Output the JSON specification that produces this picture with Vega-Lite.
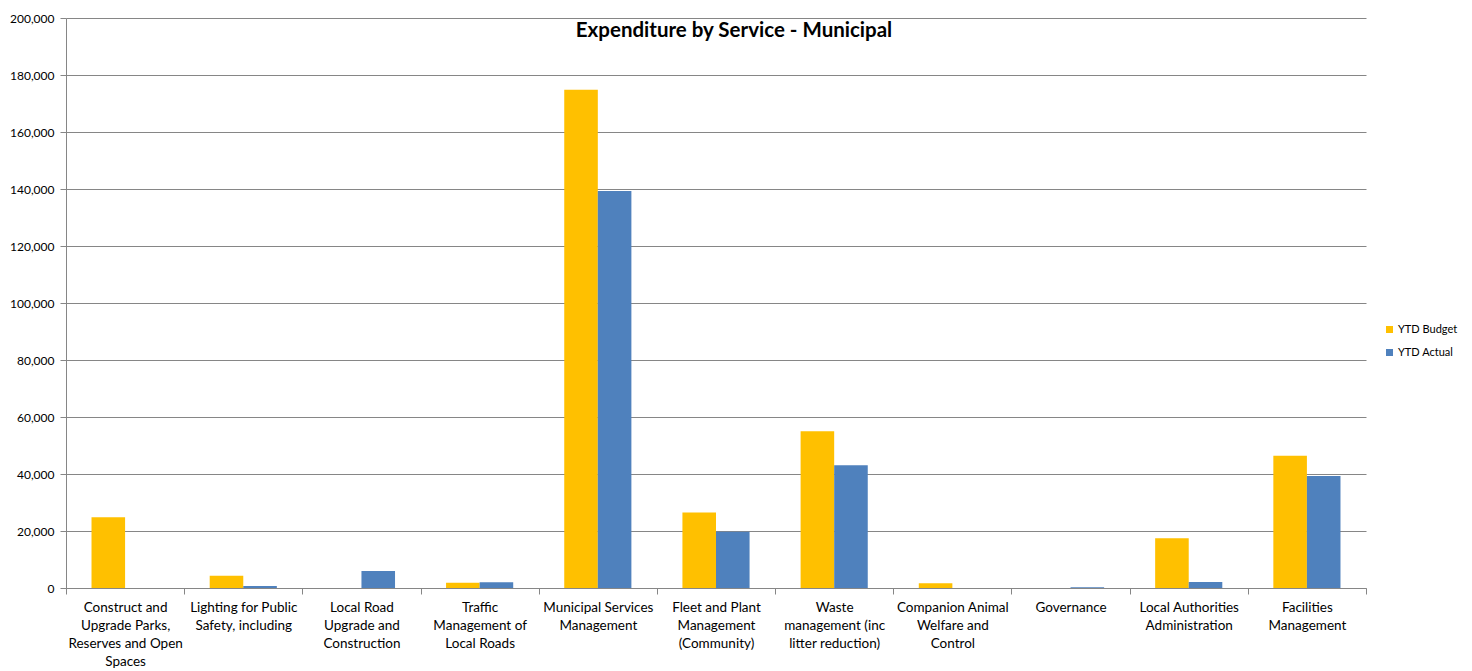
{
  "$schema": "https://vega.github.io/schema/vega-lite/v6.json",
  "autosize": {"type": "none"},
  "width": 1300,
  "height": 570,
  "padding": {"left": 66, "top": 18, "right": 106, "bottom": 83},
  "background": "white",
  "title": {
    "text": "Expenditure by Service - Municipal",
    "font": "Lato",
    "fontSize": 20.5,
    "fontWeight": "bold",
    "color": "black",
    "anchor": "middle",
    "dx": 18,
    "dy": 33
  },
  "data": {
    "values": [
      {"service": "Construct and|Upgrade Parks,|Reserves and Open|Spaces", "series": "YTD Budget", "amount": 24800},
      {"service": "Construct and|Upgrade Parks,|Reserves and Open|Spaces", "series": "YTD Actual", "amount": 0},
      {"service": "Lighting for Public|Safety, including", "series": "YTD Budget", "amount": 4300},
      {"service": "Lighting for Public|Safety, including", "series": "YTD Actual", "amount": 700},
      {"service": "Local Road|Upgrade and|Construction", "series": "YTD Budget", "amount": 0},
      {"service": "Local Road|Upgrade and|Construction", "series": "YTD Actual", "amount": 6000},
      {"service": "Traffic|Management of|Local Roads", "series": "YTD Budget", "amount": 1800},
      {"service": "Traffic|Management of|Local Roads", "series": "YTD Actual", "amount": 2000},
      {"service": "Municipal Services|Management", "series": "YTD Budget", "amount": 174800},
      {"service": "Municipal Services|Management", "series": "YTD Actual", "amount": 139300},
      {"service": "Fleet and Plant|Management|(Community)", "series": "YTD Budget", "amount": 26500},
      {"service": "Fleet and Plant|Management|(Community)", "series": "YTD Actual", "amount": 19700},
      {"service": "Waste|management (inc|litter reduction)", "series": "YTD Budget", "amount": 55000},
      {"service": "Waste|management (inc|litter reduction)", "series": "YTD Actual", "amount": 43100},
      {"service": "Companion Animal|Welfare and|Control", "series": "YTD Budget", "amount": 1700},
      {"service": "Companion Animal|Welfare and|Control", "series": "YTD Actual", "amount": 0},
      {"service": "Governance", "series": "YTD Budget", "amount": 0},
      {"service": "Governance", "series": "YTD Actual", "amount": 300},
      {"service": "Local Authorities|Administration", "series": "YTD Budget", "amount": 17500},
      {"service": "Local Authorities|Administration", "series": "YTD Actual", "amount": 2100},
      {"service": "Facilities|Management", "series": "YTD Budget", "amount": 46400},
      {"service": "Facilities|Management", "series": "YTD Actual", "amount": 39300}
    ]
  },
  "mark": {"type": "bar"},
  "encoding": {
    "x": {
      "field": "service",
      "type": "nominal",
      "sort": null,
      "scale": {"paddingInner": 0, "paddingOuter": 0},
      "axis": {
        "title": null,
        "labelAngle": 0,
        "labelExpr": "datum.value ? split(datum.value, '|') : ''",
        "labelFont": "Lato",
        "labelFontSize": 13.5,
        "labelColor": "black",
        "labelLineHeight": 18,
        "labelPadding": 6,
        "labelBaseline": "top",
        "tickBand": "extent",
        "tickSize": 6,
        "tickColor": "#868686",
        "domainColor": "#868686",
        "labelLimit": 200
      }
    },
    "xOffset": {
      "field": "series",
      "type": "nominal",
      "sort": ["YTD Budget", "YTD Actual"],
      "scale": {"paddingInner": 0, "paddingOuter": 0.76}
    },
    "y": {
      "field": "amount",
      "type": "quantitative",
      "scale": {"domain": [0, 200000], "nice": false},
      "axis": {
        "title": null,
        "values": [0, 20000, 40000, 60000, 80000, 100000, 120000, 140000, 160000, 180000, 200000],
        "format": ",.0f",
        "labelFont": "Lato",
        "labelFontSize": 12,
        "labelColor": "black",
        "labelPadding": 6,
        "tickSize": 6,
        "tickColor": "#868686",
        "domainColor": "#868686",
        "gridColor": "#868686",
        "grid": true
      }
    },
    "color": {
      "field": "series",
      "type": "nominal",
      "sort": ["YTD Budget", "YTD Actual"],
      "scale": {"domain": ["YTD Budget", "YTD Actual"], "range": ["#FFC000", "#4F81BD"]},
      "legend": {
        "title": null,
        "orient": "none",
        "legendX": 1318,
        "legendY": 306,
        "symbolType": "square",
        "symbolSize": 49,
        "symbolStrokeWidth": 0,
        "labelFont": "Lato",
        "labelFontSize": 11,
        "labelColor": "black",
        "rowPadding": 11,
        "labelOffset": 3
      }
    }
  },
  "config": {
    "view": {"stroke": null},
    "axis": {"gridWidth": 1, "domainWidth": 1}
  }
}
